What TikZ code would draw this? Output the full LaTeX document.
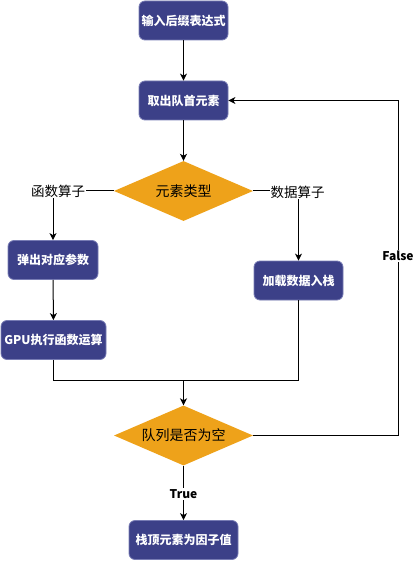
\documentclass[tikz,border=0pt]{standalone}
\usepackage{fontspec}
\setmainfont{Noto Sans CJK SC}
\newfontfamily\cjk{Noto Sans CJK SC}
\usetikzlibrary{shapes.geometric,arrows.meta}
\definecolor{boxfill}{RGB}{60,64,136}
\definecolor{boxline}{RGB}{120,124,180}
\definecolor{decfill}{RGB}{238,162,26}
\tikzset{
  procbox/.style={draw=boxline, line width=0.8pt, fill=boxfill, rounded corners=6pt, text=white,
    font=\cjk\bfseries\fontsize{12}{14}\selectfont, minimum height=39pt, inner sep=0pt, align=center},
  decision/.style={diamond, shape aspect=2.3, fill=decfill, draw=none, minimum width=139pt, minimum height=60pt, inner sep=0pt,
    font=\cjk\fontsize{14}{16}\selectfont},
  conn/.style={line width=1pt, -{Stealth[length=7pt,width=7pt,inset=2pt]}},
  plain/.style={line width=1pt},
  elabel/.style={fill=white, inner sep=1pt, font=\cjk\fontsize{13.5}{15}\selectfont},
  blabel/.style={fill=white, inner sep=1pt, font=\cjk\bfseries\fontsize{12}{14}\selectfont},
}
\begin{document}
\begin{tikzpicture}[x=1pt,y=-1pt]
\useasboundingbox (0,0) rectangle (416,561);
\node[procbox, minimum width=89pt] (b1) at (183.5,20.5) {输入后缀表达式};
\node[procbox, minimum width=89pt] (b2) at (183.5,100.5) {取出队首元素};
\node[decision] (d1) at (183.5,191) {元素类型};
\node[procbox, minimum width=90pt] (b3) at (53,260) {弹出对应参数};
\node[procbox, minimum width=89pt] (b4) at (298.5,280.5) {加载数据入栈};
\node[procbox, minimum width=105pt] (b5) at (53.5,340) {GPU执行函数运算};
\node[decision] (d2) at (183.5,435.5) {队列是否为空};
\node[procbox, minimum width=109pt] (b6) at (183.5,540) {栈顶元素为因子值};
\coordinate (m) at (183.5,380);
\coordinate (fr) at (398,435.5);
\draw[conn] (b1) -- (b2);
\draw[conn] (b2) -- (d1);
\draw[conn] (d1.west) -| (b3.north);
\draw[conn] (d1.east) -| (b4.north);
\node[elabel] (l1) at (58,191) {函数算子};
\node[elabel] (l2) at (297.5,192) {数据算子};
\draw[conn] (b3) -- (b5);
\draw[plain] (b5.south) |- (m);
\draw[plain] (b4.south) |- (m);
\draw[conn] (m) -- (d2.north);
\draw[conn] (d2.east) -- (fr) |- (b2.east);
\node[blabel] (lf) at (398,256) {False};
\draw[conn] (d2.south) -- (b6.north);
\node[blabel] (lt) at (183.5,494) {True};
\end{tikzpicture}
\end{document}
